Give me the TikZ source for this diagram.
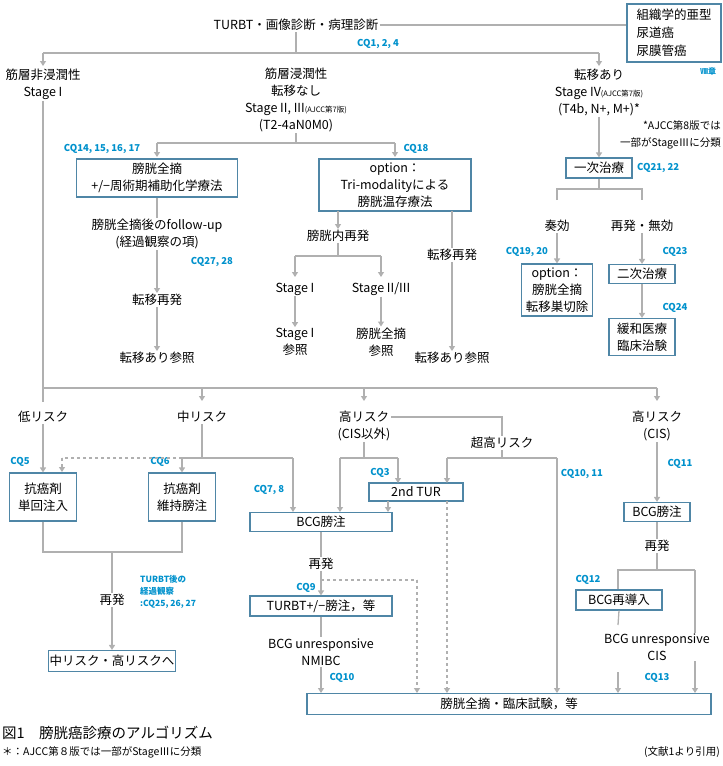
\documentclass[tikz,border=0pt]{standalone}
\usepackage{fontspec}
\setmainfont{Noto Sans CJK JP}
\usetikzlibrary{arrows.meta}
\definecolor{lineg}{HTML}{B0B0B0}
\definecolor{boxc}{HTML}{4F86A6}
\definecolor{cqc}{HTML}{0091CC}
\tikzset{
 ln/.style={draw=lineg,line width=1.3pt},
 arr/.style={ln,-{Triangle[width=6pt,length=5pt]}},
 dsh/.style={ln,dashed},
 darr/.style={dsh,-{Triangle[width=6pt,length=5pt]}},
 bx/.style={draw=boxc,line width=1.1pt,fill=white,align=center,inner sep=1pt,font=\fontsize{12.5}{17}\selectfont},
 tx/.style={align=center,inner sep=1pt,font=\fontsize{12.5}{17}\selectfont},
 cq/.style={text=cqc,inner sep=0pt,font=\fontsize{9.5}{11}\selectfont\bfseries},
}
\begin{document}
\begin{tikzpicture}[x=1pt,y=-1pt]
\useasboundingbox (0,0) rectangle (723,766);
% top
\node[tx] (turbt) at (296,25) {TURBT・画像診断・病理診断};
\node[bx,align=left,minimum width=94pt,minimum height=58pt,inner sep=4pt,font=\fontsize{12.5}{18}\selectfont] (hist) at (674,33) {組織学的亜型\\尿道癌\\尿膜管癌};
\node[cq,font=\fontsize{8}{9}\selectfont\bfseries] (ch8) at (708,71) {Ⅷ章};
\draw[ln] (turbt.east) -- (hist.west |- turbt.east);
\node[cq] (cq1) at (378,44) {CQ1, 2, 4};
\coordinate (j0) at (296,53);
\draw[ln] (turbt.south) -- (j0);
\draw[ln] (43,53) -- (599,53);
\draw[arr] (43,53) -- (43,66);
\draw[arr] (599,53) -- (599,66);
\node[tx] (nmi) at (43,84) {筋層非浸潤性\\Stage I};
\node[tx] (mi) at (296,100) {筋層浸潤性\\転移なし\\Stage II,\ III{\fontsize{7.5}{9}\selectfont (AJCC第7版)}\\(T2-4aN0M0)};
\node[tx] (met) at (599,92) {転移あり\\Stage IV{\fontsize{7.5}{9}\selectfont (AJCC第7版)}\\(T4b,\ N+,\ M+)*};
\node[tx,align=right,font=\fontsize{10.5}{17}\selectfont,anchor=east] (note) at (722,135) {*AJCC第8版では\\一部がStageⅢに分類};
% right branch
\node[bx,minimum width=66pt,minimum height=20pt] (ichi) at (599,168) {一次治療};
\draw[arr] (met.south) -- (ichi.north);
\node[cq,anchor=west] (cq21) at (637,168) {CQ21, 22};
\draw[ln] (ichi.south) -- (599,189);
\draw[ln] (557,200) -- (557,189) -- (642,189) -- (642,200);
\node[tx] (sou) at (557,226) {奏効};
\node[tx] (sai) at (642,226) {再発・無効};
\node[bx,minimum width=71pt,minimum height=52pt] (opt2) at (557,290) {option：\\膀胱全摘\\転移巣切除};
\node[bx,minimum width=66pt,minimum height=19pt] (ni) at (642,274) {二次治療};
\node[bx,minimum width=66pt,minimum height=37pt] (kanwa) at (642,337) {緩和医療\\臨床治験};
\draw[arr] (sou.south) -- (opt2.north);
\draw[arr] (sai.south) -- (ni.north);
\draw[arr] (ni.south) -- (kanwa.north);
\node[cq] (cq19) at (527,252) {CQ19, 20};
\node[cq] (cq23) at (675,252) {CQ23};
\node[cq] (cq24) at (675,308) {CQ24};
% middle branch
\draw[ln] (mi.south) -- (296,143);
\draw[ln] (157,143) -- (395,143);
\draw[arr] (157,143) -- (157,157);
\draw[arr] (395,143) -- (395,157);
\node[cq] (cq14) at (102,149) {CQ14, 15, 16, 17};
\node[cq] (cq18) at (416,149) {CQ18};
\node[bx,minimum width=161pt,minimum height=38pt] (cyst) at (157,178) {膀胱全摘\\+/−周術期補助化学療法};
\node[bx,minimum width=152pt,minimum height=52pt] (opt) at (395,185) {option：\\Tri-modalityによる\\膀胱温存療法};
\node[tx] (fu) at (157,234) {膀胱全摘後のfollow-up\\(経過観察の項)};
\draw[ln] (cyst.south) -- (fu.north);
\node[tx] (mr1) at (157,300) {転移再発};
\draw[arr] (fu.south) -- (mr1.north);
\node[cq] (cq27) at (212,262) {CQ27, 28};
\node[tx] (ref1) at (157,358) {転移あり参照};
\draw[arr] (mr1.south) -- (ref1.north);
\node[tx] (bnai) at (338,236) {膀胱内再発};
\draw[arr] (338,211) -- (bnai.north);
\draw[ln] (bnai.south) -- (338,256);
\draw[ln] (295,256) -- (381,256);
\draw[arr] (295,256) -- (295,277);
\draw[arr] (381,256) -- (381,277);
\node[tx] (s1) at (295,289) {Stage I};
\node[tx] (s23) at (381,289) {Stage II/III};
\node[tx] (s1r) at (295,342) {Stage I\\参照};
\node[tx] (s23r) at (381,342) {膀胱全摘\\参照};
\draw[arr] (s1.south) -- (s1r.north);
\draw[arr] (s23.south) -- (s23r.north);
\node[tx] (mr2) at (452,255) {転移再発};
\draw[ln] (452,211) -- (mr2.north);
\node[tx] (ref2) at (452,358) {転移あり参照};
\draw[arr] (mr2.south) -- (ref2.north);
% NMIBC
\draw[ln] (nmi.south) -- (43,388) -- (657,388);
\draw[arr] (202,388) -- (202,401);
\draw[arr] (364,388) -- (364,401);
\draw[arr] (657,388) -- (657,401);
\draw[ln] (43,388) -- (43,402);
\node[tx] (low) at (43,417) {低リスク};
\node[tx] (mid) at (202,417) {中リスク};
\node[tx] (high) at (364,426) {高リスク\\(CIS以外)};
\node[tx] (vhigh) at (502,443) {超高リスク};
\node[tx] (cis) at (657,426) {高リスク\\(CIS)};
\draw[ln] (high.east |- 0,417) -- (502,417) -- (vhigh.north);
% low / mid
\node[bx,minimum width=67pt,minimum height=48pt] (lowbx) at (43,497) {抗癌剤\\単回注入};
\node[bx,minimum width=67pt,minimum height=48pt] (midbx) at (182,497) {抗癌剤\\維持膀注};
\draw[arr] (low.south) -- (lowbx.north);
\node[cq] (cq5) at (20,462) {CQ5};
\node[cq] (cq6) at (160,462) {CQ6};
\draw[ln] (mid.south) -- (202,458);
\draw[ln] (182,458) -- (293,458);
\draw[arr] (182,458) -- (midbx.north);
\draw[dsh] (182,458) -- (62,458);
\draw[darr] (62,458) -- (62,472);
\node[bx,minimum width=142pt,minimum height=19pt] (bcg) at (321,522) {BCG膀注};
\draw[arr] (293,458) -- (293,512);
\node[cq] (cq7) at (269,490) {CQ7, 8};
\draw[ln] (lowbx.south) -- (43,552) -- (182,552) -- (midbx.south);
\node[tx] (sai1) at (112,600) {再発};
\draw[ln] (112,552) -- (sai1.north);
\node[bx,minimum width=124pt,minimum height=21pt] (tomid) at (112,661) {中リスク・高リスクへ};
\draw[arr] (sai1.south) -- (tomid.north);
\node[cq,align=left,anchor=west,font=\fontsize{8.5}{12}\selectfont\bfseries] (fucq) at (140,592) {TURBT後の\\経過観察\\:CQ25, 26, 27};
% high
\draw[ln] (high.south) -- (364,458);
\draw[ln] (340,458) -- (398,458);
\draw[arr] (340,458) -- (340,512);
\node[bx,minimum width=94pt,minimum height=18pt] (tur2) at (416,492) {2nd TUR};
\draw[arr] (398,458) -- (398,483);
\node[cq] (cq3) at (380,473) {CQ3};
\draw[arr] (388,501) -- (388,512);
\draw[ln] (vhigh.south) -- (502,458);
\draw[ln] (447,458) -- (557,458);
\draw[arr] (447,458) -- (447,483);
\node[cq] (cq10a) at (582,474) {CQ10, 11};
% bottom box
\node[bx,minimum width=404pt,minimum height=21pt] (final) at (509,704) {膀胱全摘・臨床試験，等};
\draw[arr] (557,458) -- (557,693);
\draw[darr] (447,501) -- (447,693);
\node[tx] (sai2) at (321,564) {再発};
\draw[ln] (bcg.south) -- (sai2.north);
\node[bx,minimum width=142pt,minimum height=20pt] (turbt2) at (321,606) {TURBT+/−膀注，等};
\draw[arr] (sai2.south) -- (turbt2.north);
\draw[dsh] (321,580) -- (417,580);
\draw[darr] (417,580) -- (417,693);
\node[cq] (cq9) at (306,588) {CQ9};
\node[tx] (bun1) at (321,652) {BCG unresponsive\\NMIBC};
\draw[ln] (turbt2.south) -- (bun1.north);
\draw[arr] (bun1.south) -- (321,693);
\node[cq] (cq10b) at (342,678) {CQ10};
% CIS
\node[bx,minimum width=66pt,minimum height=19pt] (bcg2) at (657,512) {BCG膀注};
\draw[arr] (cis.south) -- (bcg2.north);
\node[cq] (cq11) at (680,464) {CQ11};
\node[tx] (sai3) at (657,546) {再発};
\draw[ln] (bcg2.south) -- (sai3.north);
\draw[ln] (sai3.south) -- (657,570);
\draw[ln] (618,590) -- (618,570) -- (695,570);
\draw[arr] (695,570) -- (695,693);
\node[bx,minimum width=86pt,minimum height=20pt] (bcgre) at (619,600) {BCG再導入};
\node[cq] (cq12) at (588,580) {CQ12};
\node[tx,fill=white] (bun2) at (657,647) {BCG unresponsive\\CIS};
\draw[ln] (bcgre.south) -- (618,625);
\draw[arr] (618,672) -- (618,693);
\node[cq] (cq13) at (657,678) {CQ13};
% caption
\node[anchor=west,inner sep=0pt,font=\fontsize{14.5}{16}\selectfont] (cap) at (2,733) {図1\quad 膀胱癌診療のアルゴリズム};
\node[anchor=west,inner sep=0pt,font=\fontsize{10.5}{12}\selectfont] (cap2) at (2,752) {＊：AJCC第８版では一部がStageⅢに分類};
\node[anchor=east,inner sep=0pt,font=\fontsize{10.5}{12}\selectfont] (cap3) at (720,752) {(文献1より引用)};
\end{tikzpicture}
\end{document}
